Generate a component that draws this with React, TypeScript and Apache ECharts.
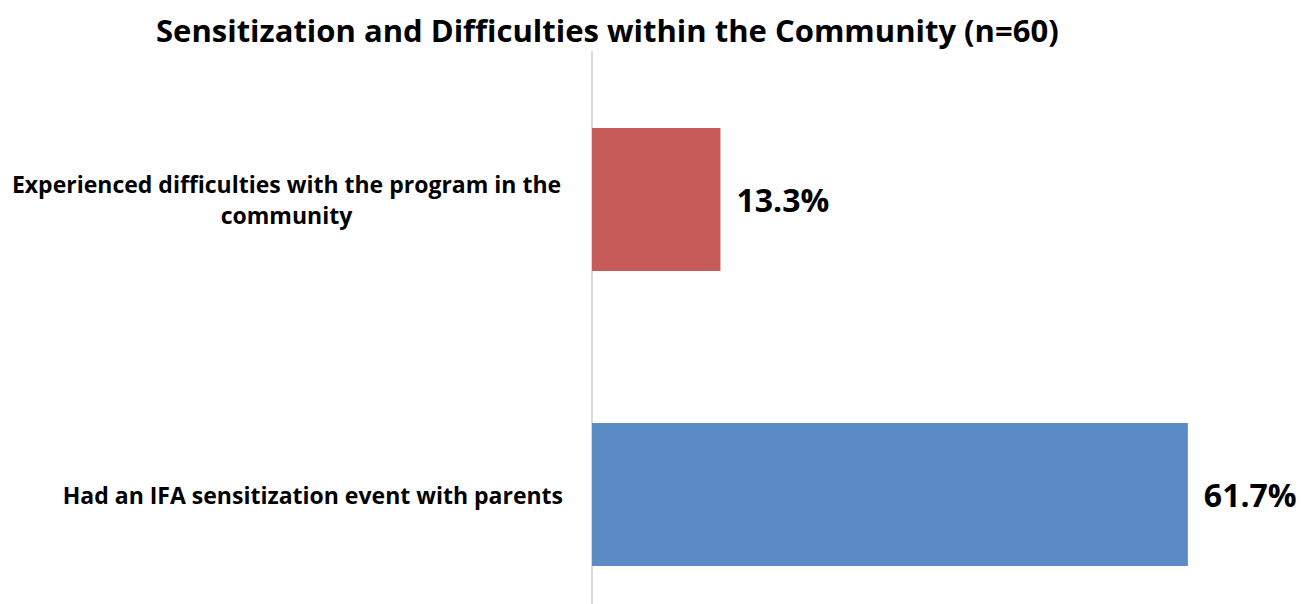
import React, { useEffect, useRef } from "react";
import * as echarts from "echarts";

const titleText = "Sensitization and Difficulties within the Community (n=60)";
const categories = [
  "Experienced difficulties with the program in the\ncommunity",
  "Had an IFA sensitization event with parents",
];
const values = [13.3, 61.7];
const barColors = ["#C65B58", "#5B8BC4"];

const FONT = "Open Sans";

export default function App() {
  const ref = useRef<HTMLDivElement>(null);
  useEffect(() => {
    document.body.style.margin = "0";
    if (!ref.current) return;
    const chart = echarts.init(ref.current, undefined, { renderer: "svg" });
    chart.setOption({
      animation: false,
      backgroundColor: "#ffffff",
      title: {
        text: titleText,
        left: 151,
        top: 9,
        textStyle: { fontFamily: FONT, fontWeight: "bold", fontSize: 31, color: "#000000" },
      },
      grid: { left: 592, right: 36, top: 52, bottom: 0, containLabel: false },
      xAxis: {
        type: "value",
        min: 0,
        max: 70,
        show: false,
        splitLine: { show: false },
      },
      yAxis: {
        type: "category",
        data: categories,
        inverse: true,
        axisLine: { show: true, lineStyle: { color: "#D9D9D9", width: 2 } },
        axisTick: { show: false },
        axisLabel: {
          margin: 29,
          fontFamily: FONT,
          fontWeight: "bold",
          fontSize: 23,
          color: "#000000",
          formatter: (v: string) => {
            const lines = v.split("\n");
            if (lines.length === 1) return `{s|${v}}`;
            return lines.map((l) => `{m|${l}}`).join("\n");
          },
          rich: {
            s: { fontFamily: FONT, fontWeight: "bold", fontSize: 23, color: "#000", lineHeight: 31 },
            m: { fontFamily: FONT, fontWeight: "bold", fontSize: 23, color: "#000", lineHeight: 31, width: 553, align: "center" },
          },
        },
      },
      series: [
        {
          type: "bar",
          barWidth: 143,
          data: values.map((v, i) => ({ value: v, itemStyle: { color: barColors[i] } })),
          label: {
            show: true,
            position: "right",
            distance: 16,
            formatter: (p: any) => `${p.value.toFixed(1)}%`,
            fontFamily: FONT,
            fontWeight: "bold",
            fontSize: 32,
            color: "#000000",
          },
        },
      ],
    });
    return () => chart.dispose();
  }, []);
  return (
    <div style={{ width: 1304, height: 604, overflow: "hidden" }}>
      <div ref={ref} style={{ width: 1304, height: 642 }} />
    </div>
  );
}
